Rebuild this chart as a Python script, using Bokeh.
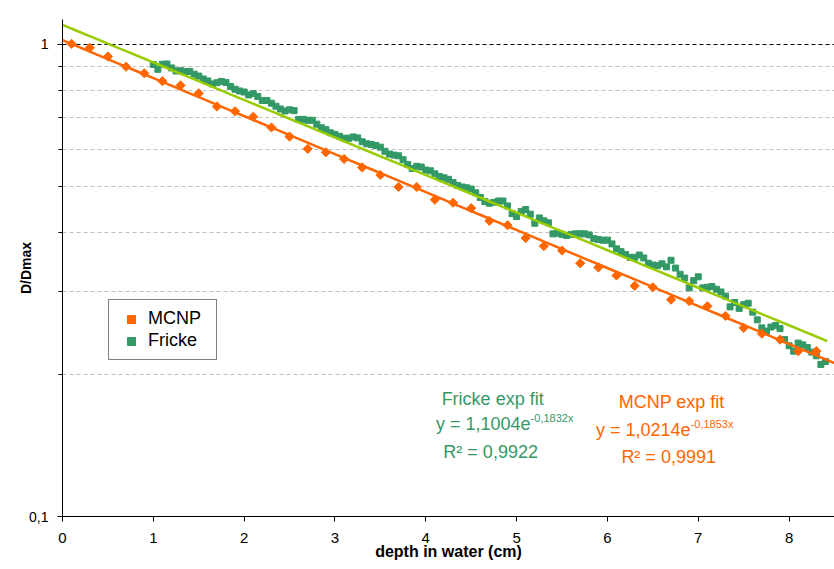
import numpy as np
from bokeh.plotting import figure
from bokeh.models import (Range1d, FixedTicker, CustomJSTickFormatter, Legend,
                          LegendItem, Label)
from bokeh.embed import file_html
from bokeh.resources import INLINE

# ---------------- data ----------------
mcnp_depth = [0.1, 0.3, 0.5, 0.7, 0.9, 1.1, 1.3, 1.5, 1.7, 1.9, 2.1, 2.3, 2.5, 2.7,
              2.9, 3.1, 3.3, 3.5, 3.7, 3.9, 4.1, 4.3, 4.5, 4.7, 4.9, 5.1, 5.3, 5.5,
              5.7, 5.9, 6.1, 6.3, 6.5, 6.7, 6.9, 7.1, 7.3, 7.5, 7.7, 7.9, 8.1, 8.3]
mcnp_dose = [1.003, 0.984, 0.943, 0.897, 0.869, 0.836, 0.819, 0.788, 0.739, 0.722,
             0.703, 0.667, 0.638, 0.601, 0.591, 0.572, 0.549, 0.529, 0.499, 0.499,
             0.469, 0.462, 0.450, 0.423, 0.414, 0.389, 0.374, 0.366, 0.344, 0.337,
             0.324, 0.308, 0.306, 0.288, 0.286, 0.279, 0.266, 0.251, 0.244, 0.237,
             0.224, 0.224]

fricke_depth = [1.00, 1.05, 1.10, 1.15, 1.20, 1.25, 1.30, 1.35, 1.40, 1.45,
                1.50, 1.55, 1.60, 1.65, 1.70, 1.75, 1.80, 1.85, 1.90, 1.95,
                2.00, 2.05, 2.10, 2.15, 2.20, 2.25, 2.30, 2.35, 2.40, 2.45,
                2.50, 2.55, 2.60, 2.65, 2.70, 2.75, 2.80, 2.85, 2.90, 2.95,
                3.00, 3.05, 3.10, 3.15, 3.20, 3.25, 3.30, 3.35, 3.40, 3.45,
                3.50, 3.55, 3.60, 3.65, 3.70, 3.75, 3.80, 3.85, 3.90, 3.95,
                4.00, 4.05, 4.10, 4.15, 4.20, 4.25, 4.30, 4.35, 4.40, 4.45,
                4.50, 4.55, 4.60, 4.65, 4.70, 4.75, 4.80, 4.85, 4.90, 4.95,
                5.00, 5.05, 5.10, 5.15, 5.20, 5.25, 5.30, 5.35, 5.40, 5.45,
                5.50, 5.55, 5.60, 5.65, 5.70, 5.75, 5.80, 5.85, 5.90, 5.95,
                6.00, 6.05, 6.10, 6.15, 6.20, 6.25, 6.30, 6.35, 6.40, 6.45,
                6.50, 6.55, 6.60, 6.65, 6.70, 6.75, 6.80, 6.85, 6.90, 6.95,
                7.00, 7.05, 7.10, 7.15, 7.20, 7.25, 7.30, 7.35, 7.40, 7.45,
                7.50, 7.55, 7.60, 7.65, 7.70, 7.75, 7.80, 7.85, 7.90, 7.95,
                8.00, 8.05, 8.10, 8.15, 8.20, 8.25, 8.30, 8.35, 8.40]
fricke_dose = [0.907, 0.886, 0.908, 0.909, 0.892, 0.879, 0.880, 0.876, 0.877, 0.865,
               0.857, 0.845, 0.837, 0.825, 0.830, 0.835, 0.831, 0.815, 0.804, 0.797,
               0.793, 0.782, 0.787, 0.776, 0.761, 0.761, 0.751, 0.740, 0.730, 0.723,
               0.727, 0.724, 0.694, 0.694, 0.691, 0.691, 0.678, 0.666, 0.660, 0.650,
               0.645, 0.639, 0.633, 0.633, 0.637, 0.634, 0.622, 0.616, 0.614, 0.611,
               0.606, 0.594, 0.586, 0.583, 0.581, 0.570, 0.557, 0.546, 0.552, 0.550,
               0.542, 0.540, 0.532, 0.525, 0.522, 0.518, 0.510, 0.503, 0.499, 0.497,
               0.494, 0.485, 0.474, 0.465, 0.461, 0.463, 0.466, 0.466, 0.455, 0.438,
               0.432, 0.443, 0.447, 0.437, 0.418, 0.429, 0.423, 0.419, 0.397, 0.398,
               0.396, 0.394, 0.396, 0.397, 0.397, 0.397, 0.395, 0.388, 0.386, 0.385,
               0.385, 0.378, 0.369, 0.364, 0.359, 0.354, 0.354, 0.358, 0.353, 0.344,
               0.341, 0.340, 0.343, 0.338, 0.349, 0.336, 0.326, 0.320, 0.305, 0.316,
               0.322, 0.305, 0.306, 0.307, 0.303, 0.299, 0.293, 0.278, 0.284, 0.276,
               0.281, 0.283, 0.271, 0.261, 0.251, 0.247, 0.252, 0.254, 0.250, 0.237,
               0.230, 0.224, 0.233, 0.231, 0.228, 0.223, 0.219, 0.210, 0.213]

# exponential trend-line parameters (as printed on the chart)
fricke_fit_a, fricke_fit_b, fricke_r2 = 1.1004, -0.1832, 0.9922
mcnp_fit_a, mcnp_fit_b, mcnp_r2 = 1.0214, -0.1853, 0.9991

x_ticks = [0, 1, 2, 3, 4, 5, 6, 7, 8]
y_major_ticks = [0.1, 1.0]
y_minor_ticks = [0.2, 0.3, 0.4, 0.5, 0.6, 0.7, 0.8, 0.9]

ORANGE = "#FF6600"
GREEN = "#339966"
LIME = "#99CC00"
FONT = "Liberation Sans"

# ---------------- figure ----------------
p = figure(width=834, height=569, y_axis_type="log",
           x_range=Range1d(0, 8.5), y_range=Range1d(0.1, 1.1296),
           output_backend="svg", toolbar_location=None,
           min_border_left=62, min_border_right=0,
           min_border_top=19, min_border_bottom=53)
p.outline_line_color = None
p.background_fill_color = "white"

# grid
p.xgrid.grid_line_color = None
p.ygrid.grid_line_color = "black"
p.ygrid.grid_line_dash = "4 3"
p.ygrid.grid_line_width = 1
p.ygrid.minor_grid_line_color = "#c0c0c0"
p.ygrid.minor_grid_line_dash = "4 3"
p.ygrid.minor_grid_line_width = 1

# axes
p.xaxis.ticker = FixedTicker(ticks=x_ticks)
p.yaxis.ticker = FixedTicker(ticks=y_major_ticks, minor_ticks=y_minor_ticks)
p.yaxis.formatter = CustomJSTickFormatter(code="return (tick < 0.5) ? '0,1' : '1';")
for ax in (p.xaxis[0], p.yaxis[0]):
    ax.axis_line_color = "black"
    ax.axis_line_width = 1
    ax.major_tick_line_color = "black"
    ax.minor_tick_line_color = "black"
    ax.major_tick_in = 0
    ax.major_tick_out = 5
    ax.minor_tick_in = 0
    ax.minor_tick_out = 4
    ax.major_label_text_font = FONT
    ax.major_label_text_color = "black"
    ax.axis_label_text_font = FONT
    ax.axis_label_text_font_style = "bold"
    ax.axis_label_text_color = "black"
p.xaxis.minor_tick_out = 0
p.xaxis.major_label_text_font_size = "15px"
p.xaxis.major_label_standoff = 11
p.xaxis.axis_label = "depth in water (cm)"
p.xaxis.axis_label_text_font_size = "16px"
p.xaxis.axis_label_standoff = -3
p.yaxis.axis_label = "D/Dmax"
p.yaxis.major_label_text_font_size = "14px"
p.yaxis.axis_label_text_font_size = "14px"
p.yaxis.major_label_standoff = 9
p.yaxis.axis_label_standoff = -8

# ---------------- data glyphs ----------------
r_fricke = p.scatter(fricke_depth, fricke_dose, marker="square", size=6,
                     fill_color=GREEN, line_color=GREEN)
r_mcnp = p.scatter(mcnp_depth, mcnp_dose, marker="square", angle=np.pi / 4,
                   size=6.5, fill_color=ORANGE, line_color=ORANGE)

# trend lines drawn from the fit parameters
xf = np.linspace(0, fricke_depth[-1] + 0.02, 60)
p.line(xf, fricke_fit_a * np.exp(fricke_fit_b * xf), line_color=LIME, line_width=2.5)
xm = np.linspace(0, 8.5, 60)
p.line(xm, mcnp_fit_a * np.exp(mcnp_fit_b * xm), line_color=ORANGE, line_width=2.5)

# ---------------- legend ----------------
legend = Legend(items=[LegendItem(label="MCNP", renderers=[r_mcnp]),
                       LegendItem(label="Fricke", renderers=[r_fricke])],
                location=(46, 156), orientation="vertical",
                border_line_color="black", border_line_width=1,
                background_fill_color="white", background_fill_alpha=1,
                label_text_font=FONT, label_text_font_size="18px",
                label_text_color="black", glyph_width=28, glyph_height=20,
                label_height=20, label_width=60,
                label_standoff=3, spacing=1, padding=8, margin=0)
p.add_layout(legend)

# ---------------- annotations ----------------
def add_text(x, y, text, color, size="18px", align="center", x_off=0, y_off=0):
    p.add_layout(Label(x=x, y=y, text=text, text_color=color, text_font=FONT,
                       text_font_size=size, text_align=align,
                       text_baseline="middle", x_offset=x_off, y_offset=y_off))

add_text(4.736, 0.1770, "Fricke exp fit", GREEN)
add_text(5.154, 0.1574, "y = 1,1004e", GREEN, align="right")
add_text(5.154, 0.1574, "-0,1832x", GREEN, size="11px", align="left", y_off=6)
add_text(4.714, 0.1373, "R\u00b2 = " + f"{fricke_r2:.4f}".replace(".", ","), GREEN)

add_text(6.707, 0.1744, "MCNP exp fit", ORANGE)
add_text(6.916, 0.1528, "y = 1,0214e", ORANGE, align="right")
add_text(6.916, 0.1528, "-0,1853x", ORANGE, size="11px", align="left", y_off=6)
add_text(6.674, 0.1340, "R\u00b2 = " + f"{mcnp_r2:.4f}".replace(".", ","), ORANGE)

open("out.html", "w").write(file_html(p, INLINE))
